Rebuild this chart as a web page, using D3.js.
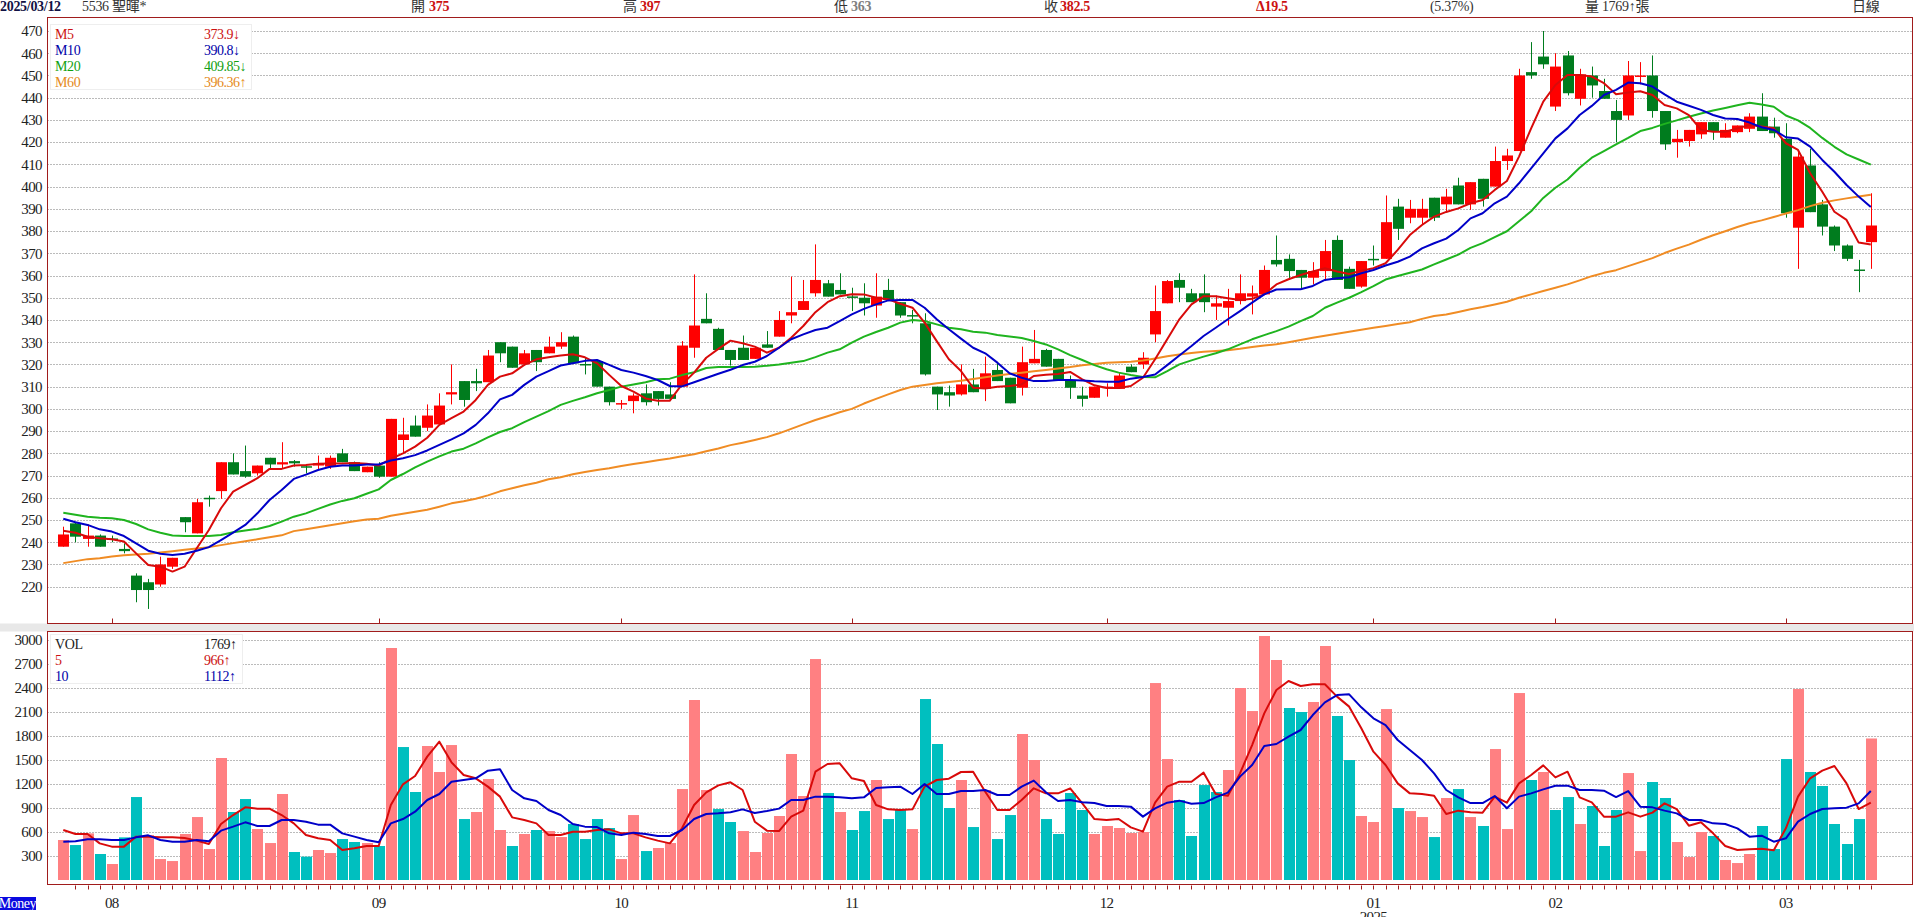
<!DOCTYPE html>
<html>
<head>
<meta charset="utf-8">
<script src="https://cdn.jsdelivr.net/npm/d3@7"></script>
<style>
  html, body { margin: 0; padding: 0; background: #fff; overflow: hidden; }
  text { font-family: "Liberation Serif", "Noto Sans CJK TC", serif; }
</style>
</head>
<body>
<div id="chart"></div>
<script>
// Candles (2024/07 to 2025/03/12)
var opens = [238,248.5,241.5,243,241.7,237,225,222,221,229,251.3,244,260,263,276,272,271,278,275,276.5,274.2,274.5,274,280,276,271.5,274.5,269.5,286,292.5,291.5,293,306.5,312.5,312.5,312,330,328,320,326.5,325,328,332.5,320.2,321.5,310,302.3,303.5,307,308,306.5,310,327.5,340.5,336,326.5,327.5,322.5,329,332.5,342,344.5,352,356.5,353.5,350.6,350,346.5,353.5,348,342.2,338.5,310,307.5,306.5,311,309,317.5,314,309.5,320.5,326.5,322.5,313,306,305,309.5,309,319,320,333.5,347.5,358,352,352,346,345.5,348.5,350.5,351.5,367,367.5,362.5,359,362,376,363,355,367.5,367.5,391,386,386,395,392,400.5,392,403.5,400,411.5,416,451.5,458.5,436,459,439.5,450,443,434,432,449.5,450,434,420,420.5,423.5,429,422,424.5,426,431.5,427,421.5,381.5,409.5,392,382,373.5,362.7,375];
var highs = [247,249,248,243.5,243,239.5,226,223.5,233.5,233,251.3,259.5,261,276,280,283.5,274.5,278,285,277,274.5,279,279,282,276.3,274,276,295.5,296,297,302,307,320,312.5,318,326.5,330,328,326.5,326.5,332.5,334.5,333,323,322,310,304,307,311,308,312,330.5,360.5,352,336.5,326.5,333,327.5,335,344,359.5,358,374,358,361,354.5,356.5,361,358.5,348,344.5,343,310,310.5,320,318,323.5,321,314,328,335.5,327,322.5,315,310,310,311.5,316.5,320,325.5,355.5,358,361,354,360.5,351,354,360.5,355.5,364.5,378,369.5,362.5,366,376,378,364,366.5,373.5,396,394.5,394,394.5,395,399,404,402,403.5,418,417,453,465,470,460,461,453,454,448.5,439,456.5,456,459,434,425.5,425.5,429,429,428.5,427.5,433,442,431,428.5,415.5,417,394,382.5,374,367,397];
var lows = [238,240,238,238,240,235,213,210,220,228,244.5,244,256,259.5,270.5,269,270,273,273,274,271,272.5,273,276,272,271.5,269,269.5,280,287.5,290,293,302,301,308,312,321,318.5,319.5,317,325,327,320.5,315.5,310,301.5,300,298,301.5,301.5,303.5,310,323,338.5,326.5,319.5,322,322.5,327.5,332.5,338.5,344.5,350.5,350.5,351.5,344,342,341,349,341,338.5,315,299.5,301,306,307.5,303.5,312.5,302.5,306,320.5,319,313,304.5,301,305,305.5,309,316.5,318,330,347.5,348,348,343.5,340,337.5,347,342.5,351.5,364,358,353.5,356,357.5,358,354,354.5,364.5,367.5,376,383.5,383,384.5,389,392,389.5,391,400,407.5,416,448.5,453,434,441,436.5,440,439.5,420,430,446,431,416.5,413,418,421.5,421,422,424,424.5,425,422,386,363,388.5,378,371,366.5,352.5,363];
var closes = [243.5,242.5,243,238,241.3,236,218.5,218.5,230,233,249,258,259.5,276,270.5,269.5,274.5,275,276,275.5,273.9,275.5,278,276,272,274,269.5,295.5,288.5,287.5,297,301.5,307.5,304,311.5,324,325,318.5,325,321,328,330,320.5,319.9,310,303,302.6,306,303,304.5,304.5,328.5,337.5,338.5,326.5,322,322,327.5,327.5,340,343.5,348.5,358,350.5,351.5,350.4,347.5,350.5,349,342,341.9,315.5,306.5,306,311,307.5,316,312.5,302.5,321,322.5,319,313,309.5,304.5,310,310,315,316.5,323,344,357.5,354.5,348,348,347.5,348.5,352,352,362.5,365,362,359,362,371,358,354,366.5,367,384,381,390,390,386,395.5,392,402,394.5,411.5,414,450,450,455,454,442,450.5,445.5,439.5,430,450,450,434,419,421.5,425.5,429,425,425.5,427.5,431.5,425,424,388,413.5,388.5,382,373.5,367.5,362.3,382.5];

// Price moving averages
var m5 = [245.2,244.3,242.5,241.8,241.3,240.3,235,229.8,229,226.8,229,237.3,245.5,255.3,262.8,265.8,268.8,273,273,274.5,274.8,275.3,275.4,275.4,275.6,275.3,274.5,277.5,280,283,287,292.8,295.8,298.8,304,310.8,314.5,316,319.8,322.3,323.2,324,324.6,323.2,320.5,315.3,310.3,307.8,304.7,303.7,303.7,311,316.3,323,327,330.7,329.5,328,325.3,327.5,332,337.3,343.5,348,350.7,351.6,351.5,350,349.3,347.3,345.5,338.8,330.5,322.3,317,309.5,309.2,310,310.3,311,314.8,315.4,315.7,316.6,313.3,310.6,309.4,309.4,310.3,314,322.3,331.3,340.3,347,350.7,350.7,349.8,349,349.5,351.5,356,358.3,360.2,361.8,363.3,361.8,360.7,362.2,363.3,365.5,371.5,378.2,382.7,386.5,388.6,390.2,392.5,394,398.5,402.5,413.5,426.2,438.2,445.7,450.2,450.2,449.5,446.5,441.5,442.3,442.9,441.2,436.7,435.2,432.2,425.5,424.7,424.7,426.2,427.7,427,426.2,419.5,416.5,406,397.7,388.7,385,374.8,373.9];
var m10 = [250.6,249,247.8,245.8,244.8,242.8,239.5,236.2,234.8,234.3,234.8,236.2,237.8,241,244.3,247.8,253,259,263.5,268.5,270.4,272.5,274,274.5,274.5,275,275,276.8,277.8,279.2,281.3,283.8,286.3,289,292.8,298,304.3,306.3,310.8,314.5,317,319.5,320.5,321.6,322,319.8,317.5,316.3,314.8,313,310.3,310.1,312,313.9,315.8,317.6,319.7,321.2,323.8,327.5,331.3,333.5,335.5,336.5,339.5,342.5,345,347,348.8,349,349,345.5,340.3,335.8,331.6,327.5,325,320.8,316,314,312.5,312.5,313,313,312.8,312.4,312.2,312.2,313.6,314.3,315.5,319.7,324,328.3,332.8,336.5,340.3,344,347.8,351.5,353.7,353.8,353.8,355.3,358,358.8,359.2,361,362.5,364.5,366.2,368.5,372.2,374.5,376.6,380.5,385.7,388,392.5,395.5,401.5,408.2,415,421.7,426.2,432.2,436.3,441.2,443.5,446.8,446.5,445,441.5,438.2,436.4,434.5,432.2,430.6,430.4,428.8,426.7,425.5,422.2,421.6,418,412,406.7,400.7,395.5,390.8];
var m20 = [253.3,252.4,251.5,251,250.8,250,248.2,245.8,244.3,243,242.8,242.8,242.8,243.3,244.5,245.3,246,247.3,249.3,251.5,253,255,257,258.6,259.8,261.8,263.8,268,270.7,273.7,276.3,278.6,280.8,282.1,284.5,287.2,289.6,291.3,294,296.5,299,301.8,303.6,305.2,307,308.5,310,311,312,313.3,313.6,315.2,316.5,318.4,318.8,318.8,318.8,319,319.4,320,320.8,321.5,323.3,325.3,326.8,329.8,332.5,334.6,336.5,338.8,340,339.5,338,336.5,335.8,334.7,334.3,333.2,332.6,331.9,330.5,329,326.8,324.2,322,319.7,317.8,316.3,315.2,314.3,314.2,317,320,321.8,323.5,325,326.8,329,331.3,333.2,335,337,339.5,341.8,345.5,347.8,350,352.5,355.2,358.2,359.8,361.2,362.7,365,367.2,369.4,372.4,374.6,377.3,379.9,384.4,388.9,394.9,399.5,403.2,408.5,413,416,419,421.9,425,426.4,428.2,429.8,431.4,432.9,434.2,435.4,436.6,437.7,436.9,435.9,432,429.8,426.4,421.9,417.9,414.5,412.2,409.85];
var m60 = [230.6,231.5,232.4,232.8,233.6,234.2,234.5,234.8,235.4,236,236.6,237.2,237.8,238.7,239.6,240.4,241.3,242.2,243.1,245,245.8,246.7,247.6,248.5,249.4,250.2,250.6,251.9,252.8,253.7,254.6,256,257.5,258.4,259.6,261.1,262.9,264.3,265.6,266.8,268.3,269.2,270.6,271.6,272.5,273.3,274.3,275.2,276,276.9,277.7,278.7,279.6,280.9,282.2,283.7,284.8,286,287.3,289,291,293,295,296.7,298.5,300,302.4,304.5,306.5,308.5,310,310.7,311.5,312.1,312.7,313.4,314.2,315,315.7,316.3,316.9,317.5,318.2,318.8,319.6,320.2,320.7,321,321.2,321.8,322.7,323.7,324.5,325.1,325.7,326,326.4,327,327.8,328.5,329.1,330,331,332,332.9,333.8,334.7,335.6,336.5,337.3,338.2,339,340.5,341.8,342.5,343.6,344.8,345.8,347,348.2,350,351.5,353,354.5,356,357.8,359.7,361.2,362.4,364.2,366,367.8,370.1,372.1,373.9,376.1,378.1,379.9,381.8,383.5,384.8,386.3,387.9,389.4,391.2,392.7,393.8,394.7,395.5,396.36];

// Volume, with its up (1) / down (0) colouring
var volumes = [500,437,583,325,200,533,1037,562,262,237,575,787,387,1525,850,1012,637,462,1075,350,292,375,337,512,475,462,425,2900,1662,1100,1675,1350,1687,762,850,1262,625,425,575,625,612,537,700,512,762,650,262,812,362,400,462,1137,2250,1125,887,725,612,350,587,800,1575,1050,2762,1087,850,625,862,1250,762,875,637,2262,1700,900,1250,662,1125,512,812,1825,1500,762,575,1087,875,575,675,650,587,600,2462,1512,1000,550,1187,1100,1375,2400,2112,3050,2750,2150,2100,2225,2925,2050,1500,800,725,2137,900,862,787,537,1025,1137,787,675,1637,637,2337,1250,1350,875,1037,700,925,425,875,1337,362,1225,1025,475,287,600,550,250,212,325,675,387,1512,2387,1350,1175,700,450,762,1769];
var volUp = [1,0,1,0,1,0,0,1,1,1,1,1,1,1,0,0,1,1,1,0,0,1,1,0,0,1,0,1,0,0,1,1,1,0,1,1,1,0,1,0,1,1,0,0,0,0,1,1,0,1,1,1,1,1,0,0,1,1,1,1,1,1,1,0,1,0,0,1,0,0,1,0,0,0,1,0,1,0,0,1,1,0,0,0,0,1,1,1,1,1,1,1,0,0,0,0,1,1,1,1,1,0,0,1,1,0,0,1,1,1,0,1,1,0,1,0,1,0,1,1,1,0,1,0,0,1,0,0,0,1,1,0,0,1,1,1,0,1,1,1,0,0,0,1,0,0,0,0,0,1];
var vol5 = [625,575,575,458,417,417,542,542,533,533,525,492,450,700,812,908,892,892,812,708,562,521,500,375,396,425,425,938,1196,1300,1542,1729,1471,1312,1271,1167,1042,783,750,708,562,562,604,604,625,633,583,583,533,492,458,646,938,1096,1183,1221,1125,729,617,612,792,867,1354,1450,1458,1271,1237,938,883,875,883,1167,1250,1267,1350,1354,1104,875,875,1000,1146,1083,1083,1146,958,762,750,762,658,604,967,1167,1229,1229,1342,1075,1054,1333,1687,2083,2375,2487,2425,2446,2446,2292,2167,1896,1604,1437,1208,1083,1075,1054,825,867,846,842,1042,967,1208,1312,1433,1283,1354,1033,971,792,792,846,792,842,958,887,679,721,583,425,375,383,392,371,646,1042,1271,1367,1425,1208,887,966];
var vol10 = [479,483,508,508,500,500,533,558,500,479,479,500,483,617,667,721,675,675,750,750,729,692,692,583,542,500,471,708,762,854,1000,1075,1229,1250,1271,1367,1383,1125,1021,987,875,812,700,667,662,583,562,592,575,550,550,625,762,825,833,846,883,837,862,892,1000,1000,1042,1042,1033,1021,1033,1150,1158,1167,1075,1200,1075,1075,1112,1112,1125,1062,1062,1167,1242,1096,987,1000,971,962,925,925,917,792,896,967,992,954,962,1033,1092,1292,1437,1675,1700,1792,1875,2062,2221,2312,2321,2158,2021,1937,1750,1625,1500,1333,1125,1033,962,962,1050,896,1042,1083,1133,1179,1179,1125,1125,1117,1037,1112,917,908,867,833,750,750,708,700,646,542,554,479,521,729,825,887,896,904,958,1112];

// Axis ticks
var priceTicks = [220,230,240,250,260,270,280,290,300,310,320,330,340,350,360,370,380,390,400,410,420,430,440,450,460,470];
var volTicks = [300,600,900,1200,1500,1800,2100,2400,2700,3000];
var monthIdx = [4,26,46,65,86,108,123,142];
var monthLabels = ["08","09","10","11","12","01","02","03"];

var W = 1914, H = 917;
var frameColor = "#a01c1c", red = "#ff0000", green = "#007c1e";
var pink = "#ff8082", teal = "#00bfbf";
var left = 47.5, right = 1912.5;
var mainTop = 17.5, mainBottom = 623.5, volTop = 631.5, volBottom = 884.5;
var barW = 11;

var svg = d3.select("#chart").append("svg").attr("width", W).attr("height", H).style("display", "block");

var idx = d3.range(closes.length);
var x = d3.scaleLinear().domain([0, 149]).range([63.3, 1870.8]);
var y = d3.scaleLinear().domain([220, 470]).range([586.7, 31]);
var yv = d3.scaleLinear().domain([0, 3000]).range([880, 640]);

// gray band between the two panels
svg.append("rect").attr("x", 0).attr("y", mainBottom).attr("width", W).attr("height", volTop - mainBottom).attr("fill", "#e8e8e8");

function drawAxis(scale, ticks) {
  var g = svg.append("g").attr("transform", "translate(42,0)")
    .call(d3.axisLeft(scale).tickValues(ticks).tickSize(0).tickPadding(0).tickFormat(d3.format("d")));
  g.select(".domain").remove();
  g.selectAll("text").attr("fill", "#222").style("font-size", "15px").attr("letter-spacing", "-0.6");
}
function drawGrid(scale, ticks) {
  svg.append("g").selectAll("line").data(ticks).enter().append("line")
    .attr("x1", left).attr("x2", right)
    .attr("y1", d => Math.round(scale(d)) + 0.5).attr("y2", d => Math.round(scale(d)) + 0.5)
    .attr("stroke", "#777").attr("stroke-dasharray", "1,2");
}
function drawLine(values, scale, color) {
  var line = d3.line().x((d, i) => x(i)).y(d => scale(d));
  svg.append("path").datum(values).attr("d", line).attr("fill", "none")
    .attr("stroke", color).attr("stroke-width", 2).attr("stroke-linejoin", "round");
}

drawGrid(y, priceTicks);
drawGrid(yv, volTicks);
drawAxis(y, priceTicks);
drawAxis(yv, volTicks);

// candles
var candleColor = i => closes[i] >= opens[i] ? red : green;
svg.append("g").selectAll("line").data(idx).enter().append("line")
  .attr("x1", i => Math.round(x(i)) + 0.5).attr("x2", i => Math.round(x(i)) + 0.5)
  .attr("y1", i => y(highs[i])).attr("y2", i => y(lows[i]))
  .attr("stroke", candleColor);
svg.append("g").selectAll("rect").data(idx).enter().append("rect")
  .attr("x", i => Math.round(x(i)) + 0.5 - barW / 2)
  .attr("width", barW)
  .attr("y", i => y(Math.max(opens[i], closes[i])))
  .attr("height", i => Math.max(1.5, Math.abs(y(opens[i]) - y(closes[i]))))
  .attr("fill", candleColor);

drawLine(m60, y, "#f08c24");
drawLine(m20, y, "#1fb41f");
drawLine(m5, y, "#d80a0a");
drawLine(m10, y, "#0000c8");

// volume bars
svg.append("g").selectAll("rect").data(idx).enter().append("rect")
  .attr("x", i => Math.round(x(i)) + 0.5 - barW / 2)
  .attr("width", barW)
  .attr("y", i => yv(volumes[i]))
  .attr("height", i => yv(0) - yv(volumes[i]))
  .attr("fill", i => volUp[i] ? pink : teal);

drawLine(vol5, yv, "#d80a0a");
drawLine(vol10, yv, "#0000c8");

// panel frames
[[mainTop, mainBottom], [volTop, volBottom]].forEach(function (f) {
  svg.append("rect").attr("x", left).attr("y", f[0]).attr("width", right - left).attr("height", f[1] - f[0])
    .attr("fill", "none").attr("stroke", frameColor);
});

// month ticks and candle ticks
svg.append("g").selectAll("line").data(monthIdx).enter().append("line")
  .attr("x1", d => Math.round(x(d)) + 0.5).attr("x2", d => Math.round(x(d)) + 0.5)
  .attr("y1", mainBottom - 5).attr("y2", mainBottom).attr("stroke", frameColor);
svg.append("g").selectAll("line").data(idx.slice(1)).enter().append("line")
  .attr("x1", i => Math.round(x(i)) + 0.5).attr("x2", i => Math.round(x(i)) + 0.5)
  .attr("y1", volBottom + 1).attr("y2", volBottom + 5).attr("stroke", frameColor);

svg.append("g").selectAll("text").data(monthLabels).enter().append("text")
  .attr("x", (d, i) => x(monthIdx[i])).attr("y", 908).attr("text-anchor", "middle")
  .attr("fill", "#222").style("font-size", "15px").attr("letter-spacing", "-0.6").text(d => d);
svg.append("text").attr("x", x(108)).attr("y", 922).attr("text-anchor", "middle")
  .attr("fill", "#222").style("font-size", "15px").attr("letter-spacing", "-0.6").text("2025");

// CMoney tag
svg.append("rect").attr("x", 0).attr("y", 897).attr("width", 36).attr("height", 13).attr("fill", "#0a0ae0");
svg.append("text").attr("x", 36).attr("y", 908).attr("text-anchor", "end")
  .attr("fill", "#fff").style("font-size", "14px").attr("letter-spacing", "-0.5").text("CMoney");

// legends
function legend(bx, by, bw, bh, rows) {
  svg.append("rect").attr("x", bx).attr("y", by).attr("width", bw).attr("height", bh)
    .attr("fill", "#fff").attr("stroke", "#eeeeee");
  rows.forEach(function (r, i) {
    var ty = by + 14 + i * 16;
    svg.append("text").attr("x", 55).attr("y", ty).attr("fill", r[2]).style("font-size", "14px").attr("letter-spacing", "-0.4").text(r[0]);
    svg.append("text").attr("x", 204).attr("y", ty).attr("fill", r[2]).style("font-size", "14px").attr("letter-spacing", "-0.5").text(r[1]);
  });
}
legend(50.5, 24.5, 201, 65, [
  ["M5", "373.9↓", "#cc1111"], ["M10", "390.8↓", "#0000a8"],
  ["M20", "409.85↓", "#11a011"], ["M60", "396.36↑", "#e58a22"]
]);
legend(50.5, 634.5, 192, 49, [
  ["VOL", "1769↑", "#222"], ["5", "966↑", "#cc1111"], ["10", "1112↑", "#0000a8"]
]);

// header row
var headerTexts = [
  { x: 0, t: "2025/03/12", c: "#111144", b: 1 },
  { x: 82, t: "5536 聖暉*", c: "#333" },
  { x: 411, t: "開", c: "#333" }, { x: 429, t: "375", c: "#cc1111", b: 1 },
  { x: 623, t: "高", c: "#333" }, { x: 640, t: "397", c: "#cc1111", b: 1 },
  { x: 834, t: "低", c: "#333" }, { x: 851, t: "363", c: "#808080", b: 1 },
  { x: 1044, t: "收", c: "#333" }, { x: 1060, t: "382.5", c: "#cc1111", b: 1 },
  { x: 1256, t: "Δ19.5", c: "#cc1111", b: 1 },
  { x: 1430, t: "(5.37%)", c: "#333" },
  { x: 1585, t: "量 1769↑張", c: "#333" },
  { x: 1852, t: "日線", c: "#333" }
];
svg.append("g").selectAll("text").data(headerTexts).enter().append("text")
  .attr("x", d => d.x).attr("y", 11).attr("fill", d => d.c)
  .attr("font-weight", d => d.b ? "bold" : "normal")
  .style("font-size", "14px").attr("letter-spacing", "-0.3").text(d => d.t);
</script>
</body>
</html>
